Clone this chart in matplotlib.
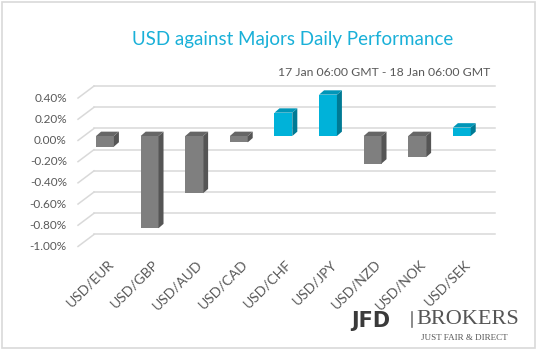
import numpy as np
import matplotlib
matplotlib.use('Agg')
import matplotlib.pyplot as plt
from matplotlib.patches import Polygon, Rectangle

# data
pairs = ['USD/EUR', 'USD/GBP', 'USD/AUD', 'USD/CAD', 'USD/CHF',
         'USD/JPY', 'USD/NZD', 'USD/NOK', 'USD/SEK']
changes = [-0.10, -0.87, -0.54, -0.06, 0.22, 0.39, -0.26, -0.20, 0.08]
tick_values = [0.4, 0.2, 0.0, -0.2, -0.4, -0.6, -0.8, -1.0]
title = 'USD against Majors Daily Performance'
subtitle = '17 Jan 06:00 GMT - 18 Jan 06:00 GMT'

W, H = 538, 351
plt.rcParams['font.family'] = ['Lato', 'DejaVu Sans']

fig = plt.figure(figsize=(W / 100, H / 100), dpi=100)


def px(x, y):
    # pixel (from top-left) -> figure fraction
    return x / W, 1 - y / H


# axes region in pixels
ax_l, ax_r, ax_t, ax_b = 70, 500, 80, 250
ax = fig.add_axes([ax_l / W, 1 - ax_b / H, (ax_r - ax_l) / W, (ax_b - ax_t) / H])
ax.set_xlim((ax_l - 105) / 44.6, (ax_r - 105) / 44.6)
ax.set_ylim((136 - ax_b) / 106, (136 - ax_t) / 106)
ax.axis('off')

grid_c = '#d9d9d9'
back_dy = 0.071      # back wall is drawn higher than the bar fronts
front_dy = -0.042    # front edge of side wall (where labels sit)
wall_x0, wall_x1, wall_xf = -0.247, 8.744, -0.605

for v in tick_values:
    ax.plot([wall_x0, wall_x1], [v + back_dy, v + back_dy], color=grid_c, lw=1.1, zorder=1)
    ax.plot([wall_xf, wall_x0], [v + front_dy, v + back_dy], color=grid_c, lw=1.1, zorder=1)
    ax.text(wall_xf - 0.25, v + front_dy, '%.2f%%' % v, ha='right', va='center',
            fontsize=8.5, color='#595959')

# 3D-looking bars
bw = 0.40
ddx, ddy = 0.112, 0.041
x = np.arange(len(pairs))
front = ['#00b2d9' if c > 0 else '#7f7f7f' for c in changes]
side = ['#007a94' if c > 0 else '#555555' for c in changes]
top = ['#0096b8' if c > 0 else '#666666' for c in changes]

ax.bar(x, changes, width=bw, color=front, zorder=3)
for xi, v, sc, tc in zip(x, changes, side, top):
    hi, lo = max(v, 0), min(v, 0)
    xl, xr = xi - bw / 2, xi + bw / 2
    ax.add_patch(Polygon([(xr, lo), (xr + ddx, lo + ddy), (xr + ddx, hi + ddy), (xr, hi)],
                         closed=True, color=sc, zorder=3, lw=0))
    ax.add_patch(Polygon([(xl, hi), (xr, hi), (xr + ddx, hi + ddy), (xl + ddx, hi + ddy)],
                         closed=True, color=tc, zorder=3, lw=0))

for xi, name in zip(x, pairs):
    ax.text(xi + 0.05, -1.15, name, rotation=45, ha='right', va='top',
            rotation_mode='anchor', fontsize=10, color='#595959')

# titles
fig.text(*px(293, 40), title, ha='center', va='center', fontsize=13.5, color='#19b0d8')
fig.text(*px(490, 73), subtitle, ha='right', va='center', fontsize=8.8, color='#595959')

# outer border
fig.patches.append(Rectangle((2 / W, 3 / H), 533 / W, 346 / H, transform=fig.transFigure,
                             fill=False, edgecolor='#d9d9d9', lw=1.2))

# logo
fig.text(*px(351, 327), 'JFD', ha='left', va='baseline', fontsize=15, fontweight='bold',
         family='DejaVu Sans', color='#3a3a3a')
fig.lines.append(plt.Line2D([412 / W, 412 / W], [1 - 312 / H, 1 - 327 / H],
                            transform=fig.transFigure, color='#777777', lw=1.2))
fig.text(*px(416, 324), 'BROKERS', ha='left', va='baseline', fontsize=16,
         family='Liberation Serif', color='#555555')
fig.text(*px(421, 340), 'JUST FAIR & DIRECT', ha='left', va='baseline', fontsize=6.5,
         family='Liberation Serif', color='#555555')

fig.savefig('out.png', dpi=100)
